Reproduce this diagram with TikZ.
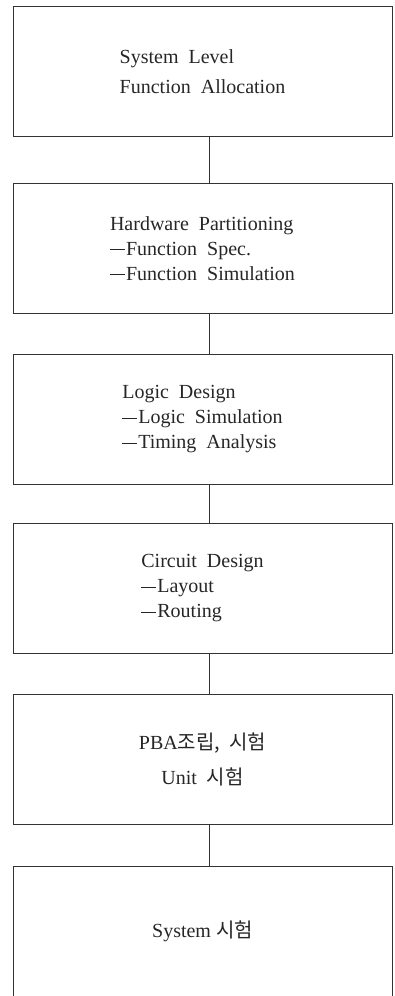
\documentclass[tikz,border=0pt]{standalone}
\usepackage{fontspec}
\setmainfont{Liberation Serif}
\newfontfamily\kr{Noto Sans CJK KR}
\newcommand\itemdash{\rule[0.28em]{0.75em}{0.6pt}\kern1pt}
\tikzset{
  stage/.style={draw=black!80, line width=0.8pt, minimum width=379pt, minimum height=130pt,
    align=left, inner sep=0pt, font=\fontsize{20}{25}\selectfont, text=black!85},
  link/.style={draw=black!80, line width=0.8pt}
}
\begin{document}
\begin{tikzpicture}[x=1pt,y=-1pt]
\useasboundingbox (0,0) rectangle (394,996);
\coordinate (axis) at (209,0);
\node[stage] (sysl) at (202.5,71.5) {System\ \ Level\\[5pt]Function\ \ Allocation};
\node[stage] (hwp) at (202.5,248.5) {Hardware\ \ Partitioning\\\itemdash Function\ \ Spec.\\\itemdash Function\ \ Simulation};
\node[stage] (logic) at (202.5,419.5) {Logic\ \ Design\\\itemdash Logic\ \ Simulation\\\itemdash Timing\ \ Analysis};
\node[stage] (circ) at (202.5,588.5) {Circuit\ \ Design\\\itemdash Layout\\\itemdash Routing};
\node[stage, align=center] (pba) at (202.5,759) {PBA{\kr 조립,\ \ 시험}\\[10pt]Unit\ \ {\kr 시험}};
\node[stage, align=center] (systest) at (202.5,931) {System\ {\kr 시험}};
\draw[link] (sysl.south -| axis) -- (hwp.north -| axis);
\draw[link] (hwp.south -| axis) -- (logic.north -| axis);
\draw[link] (logic.south -| axis) -- (circ.north -| axis);
\draw[link] (circ.south -| axis) -- (pba.north -| axis);
\draw[link] (pba.south -| axis) -- (systest.north -| axis);
\end{tikzpicture}
\end{document}
